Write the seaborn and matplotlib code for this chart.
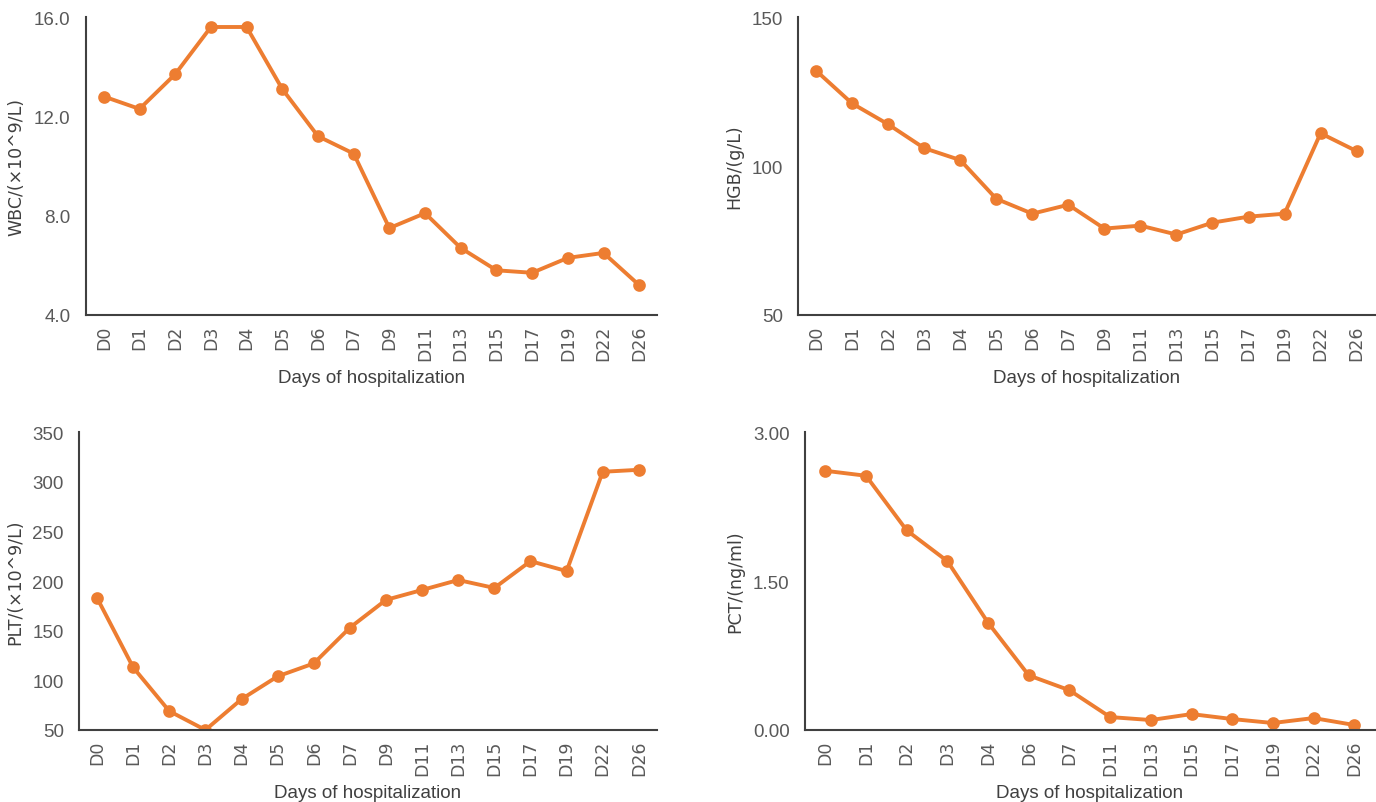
import matplotlib
matplotlib.use("Agg")
import matplotlib.pyplot as plt
import seaborn as sns

# day labels
days_full = ["D0", "D1", "D2", "D3", "D4", "D5", "D6", "D7", "D9",
             "D11", "D13", "D15", "D17", "D19", "D22", "D26"]
days_pct = ["D0", "D1", "D2", "D3", "D4", "D6", "D7", "D11", "D13",
            "D15", "D17", "D19", "D22", "D26"]

# values
wbc = [12.8, 12.3, 13.7, 15.6, 15.6, 13.1, 11.2, 10.5, 7.5, 8.1,
       6.7, 5.8, 5.7, 6.3, 6.5, 5.2]
hgb = [132, 121, 114, 106, 102, 89, 84, 87, 79, 80, 77, 81, 83, 84, 111, 105]
plt_vals = [183, 113, 69, 50, 81, 104, 117, 153, 181, 191, 201, 193,
            220, 210, 310, 312]
pct = [2.61, 2.56, 2.01, 1.70, 1.08, 0.55, 0.40, 0.13, 0.10, 0.16,
       0.11, 0.07, 0.12, 0.05]

LINE = "#ED7D31"
GREY = "#595959"
NARROW = ["Liberation Sans", "DejaVu Sans"]

sns.set_style("white")
plt.rcParams["font.family"] = ["DejaVu Sans"]

fig = plt.figure(figsize=(13.76, 8.03), dpi=100)

# (left, bottom, width, height) in figure fractions
panels = [
    dict(rect=[0.0625, 0.6065, 0.415, 0.371], x=days_full, y=wbc,
         ylab="WBC/(\u00d710^9/L)", lim=(4, 16), ticks=[4, 8, 12, 16], fmt="{:.1f}"),
    dict(rect=[0.580, 0.6065, 0.419, 0.371], x=days_full, y=hgb,
         ylab="HGB/(g/L)", lim=(50, 150), ticks=[50, 100, 150], fmt="{:.0f}"),
    dict(rect=[0.0574, 0.0897, 0.420, 0.371], x=days_full, y=plt_vals,
         ylab="PLT/(\u00d710^9/L)", lim=(50, 350), ticks=list(range(50, 351, 50)), fmt="{:.0f}"),
    dict(rect=[0.585, 0.0897, 0.414, 0.371], x=days_pct, y=pct,
         ylab="PCT/(ng/ml)", lim=(0, 3), ticks=[0, 1.5, 3], fmt="{:.2f}"),
]

for p in panels:
    ax = fig.add_axes(p["rect"])
    sns.pointplot(x=p["x"], y=p["y"], ax=ax, color=LINE, markers="o",
                  linestyles="-", markersize=7, linewidth=2.8, errorbar=None)
    ax.set_ylim(*p["lim"])
    ax.set_xlim(-0.5, len(p["x"]) - 0.5)
    ax.set_yticks(p["ticks"])
    ax.set_yticklabels([p["fmt"].format(t) for t in p["ticks"]],
                       family=NARROW, fontsize=13.5, color=GREY)
    ax.set_xticks(range(len(p["x"])))
    ax.set_xticklabels(p["x"], rotation=90, fontsize=12.5, color=GREY)
    ax.tick_params(axis="x", length=0, pad=7)
    ax.tick_params(axis="y", length=0, pad=11)
    ax.set_xlabel("Days of hospitalization", family=NARROW, fontsize=13.5,
                  color="#404040", labelpad=6)
    ax.set_ylabel(p["ylab"], fontsize=12.5, color="#404040", labelpad=6)
    sns.despine(ax=ax)
    for s in ("left", "bottom"):
        ax.spines[s].set_color("#404040")
        ax.spines[s].set_linewidth(1.5)
    ax.grid(False)

fig.savefig("out.png", dpi=100, facecolor="white")
